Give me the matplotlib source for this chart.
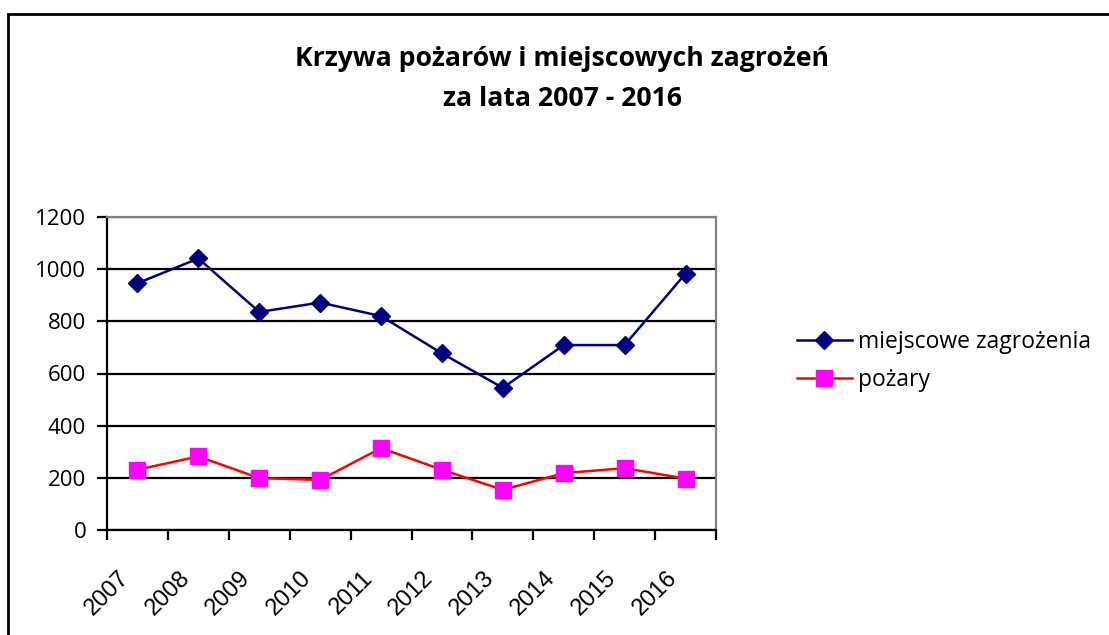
import matplotlib
matplotlib.use("Agg")
import matplotlib.pyplot as plt
from matplotlib.transforms import ScaledTranslation
from matplotlib.lines import Line2D
from matplotlib.patches import Rectangle

years = ["2007", "2008", "2009", "2010", "2011", "2012", "2013", "2014", "2015", "2016"]
miejscowe = [946, 1041, 836, 872, 820, 677, 545, 709, 709, 983]
pozary = [231, 282, 199, 192, 314, 231, 154, 218, 237, 197]
series_names = ["miejscowe zagrożenia", "pożary"]
title_text = "Krzywa pożarów i miejscowych zagrożeń\nza lata 2007 - 2016"

W, H = 1109, 635
fig = plt.figure(figsize=(W / 100, H / 100), dpi=100)
fig.patch.set_facecolor("white")

# outer chart border
fig.patches.append(Rectangle((8 / W, -0.1), 1.2, (H - 14) / H + 0.1, transform=fig.transFigure,
                             fill=False, edgecolor="black", linewidth=2.0))

ax = fig.add_axes([107 / W, (H - 530) / H, (716 - 107) / W, (530 - 217) / H])
x = list(range(len(years)))

ax.plot(x, miejscowe, color="#000080", linewidth=1.8, marker="D", markersize=9,
        markerfacecolor="#000080", markeredgecolor="#000080", label=series_names[0], zorder=3)
ax.plot(x, pozary, color="#FF0000", linewidth=1.8, marker="s", markersize=11.5,
        markerfacecolor="#FF00FF", markeredgecolor="#FF00FF", label=series_names[1], zorder=3)

ax.set_xlim(-0.5, len(years) - 0.5)
ax.set_ylim(0, 1200)
ax.set_yticks(range(0, 1201, 200))
ax.yaxis.grid(True, color="black", linewidth=1.6)
ax.set_axisbelow(True)

for s in ["top", "right"]:
    ax.spines[s].set_color("#808080")
    ax.spines[s].set_linewidth(1.6)
for s in ["left", "bottom"]:
    ax.spines[s].set_color("black")
    ax.spines[s].set_linewidth(1.6)

ax.set_xticks([i - 0.5 for i in range(len(years) + 1)])
ax.set_xticklabels([])
ax.set_xticks(x, minor=True)
ax.set_xticklabels(years, minor=True, rotation=45, ha="right", va="center",
                   rotation_mode="anchor", fontsize=17, family="Liberation Sans")
ax.tick_params(axis="x", which="major", length=7, width=1.6, direction="out")
ax.tick_params(axis="x", which="minor", length=0, pad=32)
for lab in ax.get_xticklabels(minor=True):
    lab.set_transform(lab.get_transform() + ScaledTranslation(-0.12, 0, fig.dpi_scale_trans))

ax.tick_params(axis="y", length=7, width=1.6, direction="out", labelsize=16, pad=8)
for lab in ax.get_yticklabels():
    lab.set_family("Open Sans")

fig.text(0.507, 1 - 79 / H, title_text, ha="center", va="center", fontsize=19.2,
         fontweight="bold", family="Open Sans", linespacing=1.7)

handles = [Line2D([], [], color="#000080", linewidth=1.8, marker="D", markersize=9),
           Line2D([], [], color="#FF0000", linewidth=1.8, marker="s", markersize=11.5,
                  markerfacecolor="#FF00FF", markeredgecolor="#FF00FF")]
fig.legend(handles, series_names, loc="center left", bbox_to_anchor=(797 / W, 1 - 361 / H),
           frameon=False, prop={"family": "Open Sans", "size": 16.5}, handlelength=2.4,
           handletextpad=0.25, labelspacing=0.6, borderpad=0, borderaxespad=0)

fig.savefig("out.png", dpi=100)
